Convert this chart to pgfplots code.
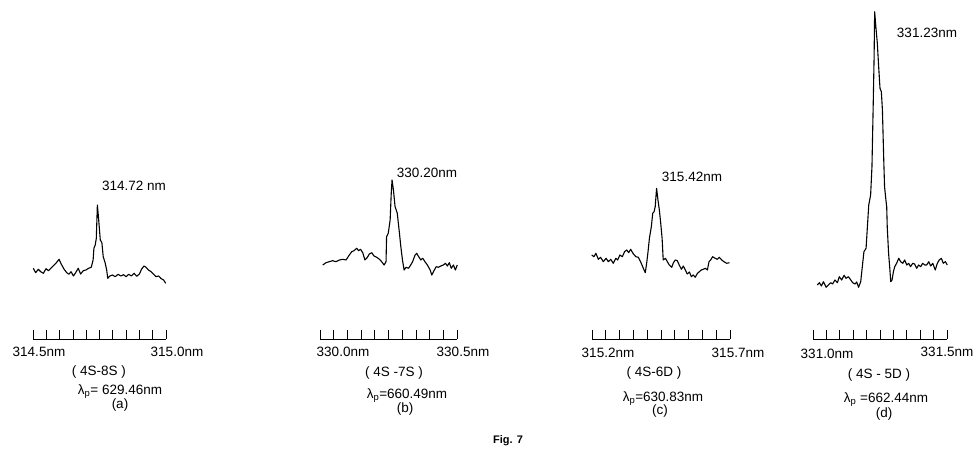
\documentclass[border=0pt]{standalone}
\usepackage{fontspec}
\setmainfont{Liberation Sans}
\usepackage{pgfplots}
\pgfplotsset{compat=1.18}
\pgfplotsset{
  spec/.style={scale only axis, height=339pt, ymin=1, ymax=340,
    axis x line=bottom, axis y line=none,
    x axis line style={-, line width=0.6pt},
    xtick align=inside, major tick length=9pt, xticklabels={},
    every tick/.style={black, line width=0.7pt},
    clip=false, anchor=south west},
  specline/.style={black, line width=1.1pt, no marks, line join=round}}
\newcommand{\lab}{\fontsize{13.5}{15}\selectfont}
\begin{document}
\begin{tikzpicture}[every node/.style={font=\lab, inner sep=0pt}]
\useasboundingbox (0,0) rectangle (977pt,454pt);
% ---------- (a) ----------
\begin{axis}[spec, at={(33pt,115pt)}, width=133pt, xmin=314.5, xmax=315.0,
  xtick={314.5,314.55,314.6,314.65,314.7,314.75,314.8,314.85,314.9,314.95,315.0}]
\addplot[specline] table {
314.501 71.7
314.510 67.3
314.520 70.7
314.529 68.3
314.539 66.7
314.549 71.3
314.558 69.3
314.568 72.0
314.576 74.0
314.586 76.7
314.598 80.7
314.606 76.0
314.617 70.7
314.627 67.3
314.635 65.7
314.643 68.3
314.652 64.0
314.662 68.0
314.670 71.7
314.679 66.0
314.689 69.3
314.699 70.0
314.709 71.7
314.719 72.7
314.726 80.0
314.729 91.7
314.734 95.0
314.738 101.7
314.742 135.0
314.746 123.3
314.749 113.3
314.753 100.0
314.759 97.3
314.764 83.3
314.771 77.3
314.777 70.0
314.781 61.7
314.789 64.0
314.799 65.0
314.809 63.3
314.820 65.7
314.830 64.0
314.840 65.3
314.850 63.3
314.860 65.7
314.870 64.0
314.880 66.7
314.890 63.7
314.900 66.0
314.908 70.7
314.917 74.0
314.925 72.7
314.934 70.0
314.944 68.3
314.954 65.7
314.962 63.3
314.972 64.0
314.982 61.3
314.991 60.0
314.999 56.7
};
\end{axis}
% ---------- (b) ----------
\begin{axis}[spec, at={(320pt,115pt)}, width=137pt, xmin=330.0, xmax=330.5,
  xtick={330.0,330.05,330.1,330.15,330.2,330.25,330.3,330.35,330.4,330.45,330.5}]
\addplot[specline] table {
330.010 75.0
330.022 77.3
330.034 78.3
330.046 79.3
330.058 78.3
330.071 80.0
330.083 80.7
330.095 80.0
330.107 85.0
330.116 88.3
330.124 89.3
330.134 91.7
330.141 89.3
330.148 90.7
330.156 87.3
330.164 80.0
330.173 82.7
330.180 86.0
330.189 87.3
330.197 84.0
330.207 82.7
330.217 80.7
330.225 78.3
330.234 75.0
330.241 78.3
330.243 103.3
330.249 106.7
330.256 120.0
330.260 146.7
330.263 160.0
330.268 150.0
330.274 133.3
330.282 126.7
330.290 106.7
330.295 93.3
330.301 80.0
330.307 70.0
330.314 72.7
330.323 71.7
330.331 75.0
330.338 78.3
330.347 85.0
330.353 86.7
330.360 83.3
330.368 80.0
330.375 81.7
330.383 78.3
330.392 75.0
330.402 70.0
330.408 65.0
330.414 68.3
330.424 73.3
330.432 72.7
330.441 74.0
330.450 75.0
330.458 76.7
330.465 74.0
330.472 77.3
330.479 71.7
330.487 75.0
330.494 70.0
330.501 75.0
};
\end{axis}
% ---------- (c) ----------
\begin{axis}[spec, at={(592pt,115pt)}, width=138pt, xmin=315.2, xmax=315.7,
  xtick={315.2,315.25,315.3,315.35,315.4,315.45,315.5,315.55,315.6,315.65,315.7}]
\addplot[specline] table {
315.199 85.0
315.207 83.3
315.214 86.7
315.223 80.7
315.231 82.7
315.241 78.3
315.251 81.7
315.259 78.3
315.268 80.7
315.277 76.7
315.286 81.7
315.293 80.0
315.301 85.0
315.310 83.3
315.318 88.3
315.326 90.0
315.333 87.3
315.340 90.7
315.350 86.0
315.359 83.3
315.368 82.7
315.376 78.3
315.386 71.7
315.393 67.3
315.398 76.7
315.403 88.3
315.408 101.7
315.415 113.3
315.420 126.7
315.425 128.3
315.429 133.3
315.434 151.7
315.439 140.0
315.444 130.0
315.449 116.7
315.454 101.7
315.458 80.0
315.466 81.7
315.473 78.3
315.480 75.0
315.489 72.7
315.495 77.3
315.502 80.0
315.509 79.3
315.516 75.0
315.524 70.7
315.531 74.0
315.538 70.0
315.545 66.0
315.553 68.0
315.560 63.3
315.567 65.0
315.574 62.7
315.582 66.7
315.589 68.3
315.596 70.0
315.603 70.7
315.611 71.7
315.618 70.0
315.624 78.3
315.630 80.0
315.637 83.3
315.646 81.7
315.654 80.7
315.661 82.7
315.670 80.0
315.678 78.3
315.688 76.7
315.698 77.3
};
\end{axis}
% ---------- (d) ----------
\begin{axis}[spec, at={(813pt,115pt)}, width=134pt, xmin=331.0, xmax=331.5,
  xtick={331.0,331.05,331.1,331.15,331.2,331.25,331.3,331.35,331.4,331.45,331.5}]
\addplot[specline] table {
331.016 55.0
331.024 57.3
331.031 54.0
331.039 58.3
331.049 52.7
331.057 55.0
331.066 57.3
331.073 56.0
331.082 60.0
331.091 57.3
331.098 63.3
331.107 60.0
331.116 64.7
331.123 61.7
331.132 63.3
331.141 60.0
331.148 57.3
331.157 56.0
331.163 58.0
331.170 52.7
331.178 58.3
331.184 73.3
331.190 88.3
331.198 91.7
331.203 113.3
331.208 135.0
331.215 145.0
331.220 173.3
331.225 240.0
331.228 283.3
331.230 328.3
331.235 311.7
331.240 296.7
331.245 273.3
331.250 251.7
331.255 248.3
331.259 230.0
331.264 180.0
331.267 153.3
331.272 140.0
331.275 133.3
331.277 113.3
331.282 86.7
331.287 70.0
331.290 58.3
331.295 60.0
331.300 68.3
331.305 73.3
331.312 76.7
331.320 81.7
331.327 78.3
331.335 76.7
331.342 80.0
331.350 75.0
331.357 76.7
331.364 73.3
331.372 76.7
331.379 76.0
331.387 71.7
331.394 75.0
331.402 73.3
331.409 76.7
331.417 75.0
331.424 75.0
331.432 78.3
331.439 74.0
331.447 76.7
331.456 70.0
331.464 76.7
331.471 80.0
331.479 81.7
331.486 76.7
331.494 78.3
331.501 75.0
};
\end{axis}
% ---------- text ----------
\node at (39pt,102pt) {314.5nm};
\node at (177pt,102pt) {315.0nm};
\node at (99pt,82pt) {( 4S-8S )};
\node at (120pt,62pt) {λ\textsubscript{p}= 629.46nm};
\node at (120pt,49pt) {(a)};
\node at (134pt,268pt) {314.72 nm};
\node at (343pt,102pt) {330.0nm};
\node at (463pt,102pt) {330.5nm};
\node at (394pt,81pt) {( 4S -7S )};
\node at (407pt,58pt) {λ\textsubscript{p}=660.49nm};
\node at (405pt,45pt) {(b)};
\node at (427pt,281pt) {330.20nm};
\node at (608pt,101pt) {315.2nm};
\node at (738pt,101pt) {315.7nm};
\node at (654pt,81pt) {( 4S-6D )};
\node at (663pt,55pt) {λ\textsubscript{p}=630.83nm};
\node at (660pt,43pt) {(c)};
\node at (692pt,277pt) {315.42nm};
\node at (827pt,100pt) {331.0nm};
\node at (947pt,102pt) {331.5nm};
\node at (879pt,79pt) {( 4S - 5D )};
\node at (886pt,54pt) {λ\textsubscript{p} =662.44nm};
\node at (884pt,40pt) {(d)};
\node at (927pt,421pt) {331.23nm};
\node[font=\bfseries\fontsize{11}{13}\selectfont] at (508pt,13pt) {Fig. 7};
\end{tikzpicture}
\end{document}
